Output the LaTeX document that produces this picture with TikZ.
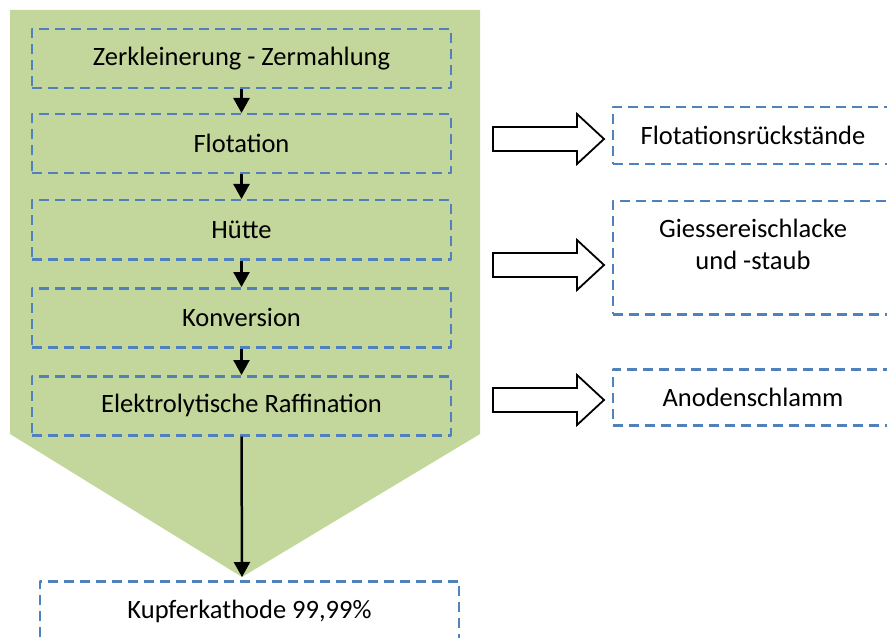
\documentclass[tikz,border=0pt]{standalone}
\usepackage{fontspec}
\setmainfont{Carlito}
\usetikzlibrary{arrows.meta}
\definecolor{olivelight}{HTML}{C3D69B}
\definecolor{dashblue}{HTML}{4F81BD}
\tikzset{
	stepbox/.style={draw=dashblue, line width=2.5bp, dash pattern=on 10bp off 6bp, inner sep=0pt, minimum width=419bp, minimum height=59bp, anchor=north},
	wastebox/.style={stepbox, minimum width=280bp},
	flow/.style={-{Triangle[length=15bp,width=16bp]}, line width=2.5bp},
	blockarrow/.style={draw=black, fill=white, line width=1.8bp, line join=miter},
}
\begin{document}
\begin{tikzpicture}[x=1bp, y=-1bp, font=\fontsize{26.5bp}{32bp}\selectfont, line join=round]
		\useasboundingbox (0,0) rectangle (887,638);
		% green funnel
		\fill[olivelight] (10,10)--(480,10)--(480,434)--(242,577)--(10,434)--cycle;
		% process steps
		\node[stepbox] (zerk) at (241.5,28) {Zerkleinerung - Zermahlung};
		\node[stepbox] (flot) at (241.5,113) {Flotation};
		\node[stepbox] (huette) at (241.5,199) {Hütte};
		\node[stepbox] (konv) at (241.5,287) {Konversion};
		\node[stepbox] (elek) at (241.5,375) {Elektrolytische Raffination};
		\node[stepbox, minimum height=60bp] (kath) at (249.5,580) {Kupferkathode 99,99\%};
		\draw[flow] (zerk.south) -- (flot.north);
		\draw[flow] (flot.south) -- (huette.north);
		\draw[flow] (huette.south) -- (konv.north);
		\draw[flow] (konv.south) -- (elek.north);
		\draw[flow] (elek.south) -- (242,577);
		% residues
		\node[wastebox, minimum height=57bp] (rueck) at (753,106) {Flotationsrückstände};
		\node[wastebox, minimum height=113bp] (schlacke) at (753,200) {};
		\node[align=center, inner sep=0pt] (schlacketext) at (753,244) {Giessereischlacke\\und -staub};
		\node[wastebox, minimum height=56bp] (schlamm) at (753,368) {Anodenschlamm};
		\foreach \c in {139,265,400}
			\draw[blockarrow] (493,\c-12)--(577,\c-12)--(577,\c-25)--(604,\c)--(577,\c+25)--(577,\c+12)--(493,\c+12)--cycle;
	\end{tikzpicture}
\end{document}
